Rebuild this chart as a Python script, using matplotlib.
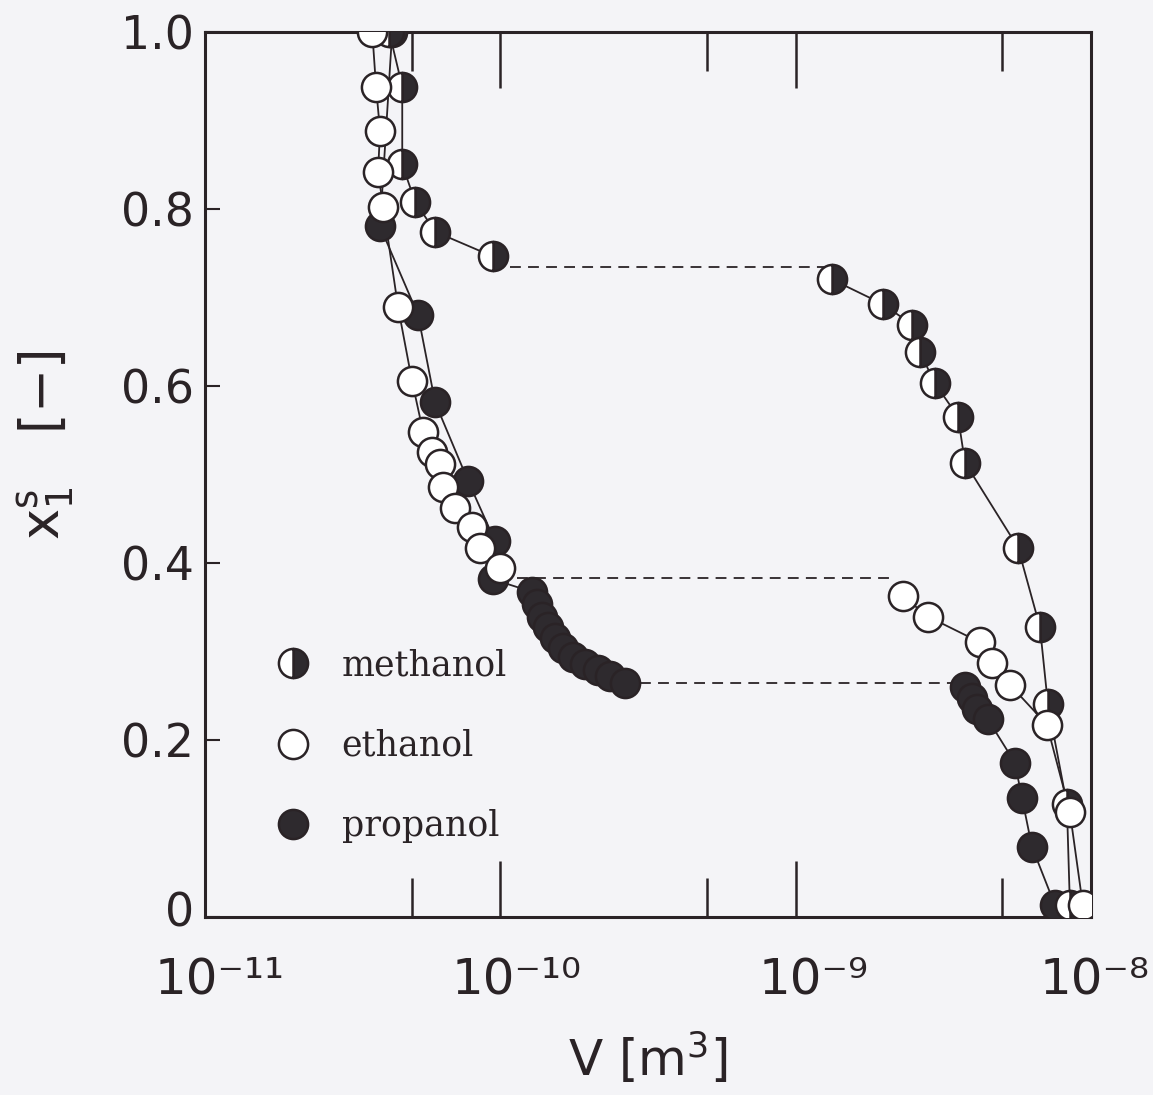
import matplotlib.pyplot as plt
from matplotlib.lines import Line2D
from matplotlib.ticker import FixedLocator, NullFormatter
from matplotlib.transforms import ScaledTranslation

# ---- data: V [m3] vs x1^s [-] ----
meth_left_v = [4.20e-11, 4.65e-11, 4.65e-11, 5.14e-11, 6.01e-11, 9.44e-11]
meth_left_x = [1.000, 0.938, 0.850, 0.808, 0.774, 0.746]
meth_right_v = [1.33e-9, 1.98e-9, 2.48e-9, 2.64e-9, 2.96e-9, 3.55e-9,
                3.75e-9, 5.67e-9, 6.73e-9, 7.16e-9, 8.30e-9, 8.50e-9]
meth_right_x = [0.720, 0.692, 0.669, 0.638, 0.603, 0.565,
                0.513, 0.417, 0.327, 0.240, 0.127, 0.013]

eth_left_v = [3.68e-11, 3.79e-11, 3.91e-11, 3.85e-11, 4.01e-11, 4.50e-11,
              5.02e-11, 5.47e-11, 5.87e-11, 6.25e-11, 6.40e-11, 7.03e-11,
              8.02e-11, 8.54e-11, 9.97e-11]
eth_left_x = [1.000, 0.938, 0.888, 0.841, 0.802, 0.689,
              0.605, 0.548, 0.525, 0.511, 0.485, 0.462,
              0.440, 0.417, 0.394]
eth_right_v = [2.31e-9, 2.81e-9, 4.21e-9, 4.62e-9, 5.32e-9, 7.10e-9, 8.50e-9, 9.40e-9]
eth_right_x = [0.362, 0.339, 0.310, 0.287, 0.262, 0.217, 0.118, 0.013]

prop_left_v = [4.30e-11, 3.91e-11, 5.26e-11, 6.01e-11, 7.78e-11, 9.60e-11, 9.44e-11,
               1.28e-10, 1.33e-10, 1.38e-10, 1.45e-10, 1.53e-10, 1.63e-10,
               1.76e-10, 1.94e-10, 2.14e-10, 2.35e-10, 2.64e-10]
prop_left_x = [1.000, 0.780, 0.680, 0.581, 0.492, 0.424, 0.381,
               0.367, 0.353, 0.339, 0.327, 0.315, 0.304,
               0.293, 0.285, 0.279, 0.272, 0.264]
prop_right_v = [3.75e-9, 3.96e-9, 4.11e-9, 4.48e-9, 5.53e-9, 5.85e-9, 6.32e-9, 7.56e-9]
prop_right_x = [0.259, 0.247, 0.234, 0.223, 0.174, 0.134, 0.079, 0.013]

# dashed transition lines: (level, V start, V end)
plateau_y = [0.734, 0.383, 0.264]
plateau_v0 = [1.08e-10, 1.14e-10, 2.97e-10]
plateau_v1 = [1.28e-9, 2.17e-9, 3.60e-9]

names = ["methanol", "ethanol", "propanol"]
x_ticklabels = ["10\u207b\u00b9\u00b9", "10\u207b\u00b9\u2070",
                "10\u207b\u2079", "10\u207b\u2078"]
y_ticklabels = ["0", "0.2", "0.4", "0.6", "0.8", "1.0"]

ink = "#2a2326"
paper = "#f4f4f7"
dark = "#2e2a2e"

fig = plt.figure(figsize=(11.53, 10.95), dpi=100, facecolor=paper)
ax = fig.add_axes([0.178, 0.163, 0.768, 0.808], facecolor=paper)
ax.set_xscale("log")

line_kw = dict(color=ink, lw=1.3, zorder=1)
mk = dict(ls="none", marker="o", ms=21, mew=1.8, mec=ink, zorder=3)

# connecting curves
for v, x in [(meth_left_v, meth_left_x), (meth_right_v, meth_right_x),
             (eth_left_v, eth_left_x), (eth_right_v, eth_right_x),
             (prop_left_v, prop_left_x), (prop_right_v, prop_right_x)]:
    ax.plot(v, x, **line_kw)
for y, v0, v1 in zip(plateau_y, plateau_v0, plateau_v1):
    ax.plot([v0, v1], [y, y], color=ink, lw=1.3, ls=(0, (6, 4)), zorder=1)

# markers: propanol underneath, ethanol on top
prop_style = dict(mfc=dark)
meth_style = dict(fillstyle="right", mfc=dark, mfcalt="white")
eth_style = dict(mfc="white")
ax.plot(prop_left_v + prop_right_v, prop_left_x + prop_right_x, **mk, **prop_style)
ax.plot(meth_left_v + meth_right_v, meth_left_x + meth_right_x, **mk, **meth_style)
ax.plot(eth_left_v + eth_right_v, eth_left_x + eth_right_x, **mk, **eth_style)

ax.set_xlim(1e-11, 1e-8)
ax.set_ylim(0, 1)

# ticks
ax.xaxis.set_major_locator(FixedLocator([1e-11, 1e-10, 1e-9, 1e-8]))
ax.xaxis.set_minor_locator(FixedLocator([5e-11, 5e-10, 5e-9]))
ax.xaxis.set_minor_formatter(NullFormatter())
ax.set_xticklabels(x_ticklabels)
ax.set_yticks([0, 0.2, 0.4, 0.6, 0.8, 1.0])
ax.set_yticklabels(y_ticklabels)
ax.tick_params(axis="x", which="major", direction="in", top=True, length=40,
               width=1.8, color=ink, labelsize=36, labelcolor=ink, pad=28)
ax.tick_params(axis="x", which="minor", direction="in", top=True, length=28,
               width=1.8, color=ink)
ax.tick_params(axis="y", direction="in", right=False, length=11, width=1.5,
               color=ink, labelsize=33, labelcolor=ink, pad=8)

# the "10" sits on the tick, the exponent hangs to the right
for lbl, dx in zip(ax.get_xticklabels(), [14, 16, 18, 4]):
    lbl.set_transform(lbl.get_transform()
                      + ScaledTranslation(dx / 100, 0, fig.dpi_scale_trans))
zero_lbl = ax.get_yticklabels()[0]
zero_lbl.set_transform(zero_lbl.get_transform()
                       + ScaledTranslation(0, 8 / 100, fig.dpi_scale_trans))

for s in ax.spines.values():
    s.set_linewidth(2.2)
    s.set_color(ink)

ax.set_xlabel(r"V [m$^3$]", fontsize=36, color=ink, labelpad=19)
ax.set_ylabel(r"$\mathregular{x_1^s}$   [$-$]", fontsize=38, color=ink)
ax.yaxis.set_label_coords(-0.1445, 0.533)

handles = [
    Line2D([], [], **mk, **meth_style),
    Line2D([], [], **mk, **eth_style),
    Line2D([], [], **mk, **prop_style),
]
ax.legend(handles, names, loc="upper left", bbox_to_anchor=(0.060, 0.3224),
          frameon=False, handlelength=1.0, handletextpad=0.9, labelspacing=1.33,
          borderpad=0, prop=dict(family="DejaVu Serif", size=25), labelcolor=ink)

fig.savefig("out.png", dpi=100, facecolor=paper)
